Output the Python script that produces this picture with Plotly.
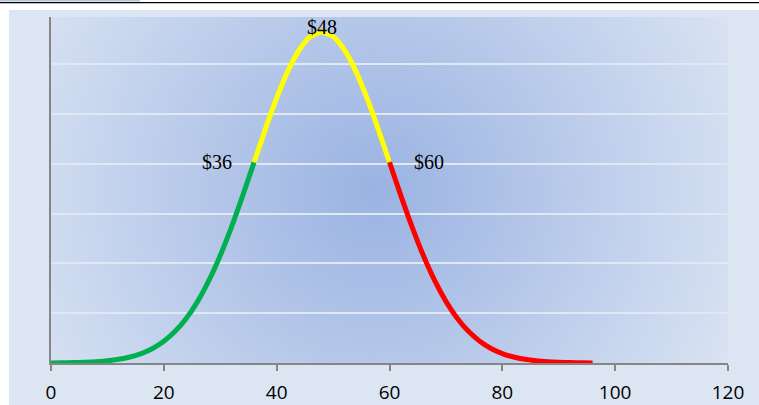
import base64
import plotly.graph_objects as go

# ---- data (price vs. relative likelihood) ----
green_x = [0, 2, 4, 6, 8, 10, 12, 14, 16, 18, 20, 22, 24, 26, 28, 30, 32, 34, 36]
green_y = [0.0000111, 0.0000214, 0.0000400, 0.0000727, 0.0001285, 0.0002208,
           0.0003693, 0.0006006, 0.0009497, 0.0014607, 0.0021852, 0.0031791,
           0.0044993, 0.0061926, 0.0082897, 0.010793, 0.013667, 0.016833, 0.020164]

yellow_x = [36, 38, 40, 42, 44, 46, 48, 50, 52, 54, 56, 58, 60]
yellow_y = [0.020164, 0.023492, 0.026621, 0.029339, 0.031449, 0.032787, 0.033245,
            0.032787, 0.031449, 0.029339, 0.026621, 0.023492, 0.020164]

red_x = [60, 62, 64, 66, 68, 70, 72, 74, 76, 78, 80, 82, 84, 86, 88, 90, 92, 94, 96]
red_y = [0.020164, 0.016833, 0.013667, 0.010793, 0.0082897, 0.0061926, 0.0044993,
         0.0031791, 0.0021852, 0.0014607, 0.0009497, 0.0006006, 0.0003693,
         0.0002208, 0.0001285, 0.0000727, 0.0000400, 0.0000214, 0.0000111]

label_points = [("$36", 36, 0.020164), ("$48", 48, 0.033245), ("$60", 60, 0.020164)]

x_ticks = [0, 20, 40, 60, 80, 100, 120]
x_range = [0, 120]
y_range = [0, 0.03475]
y_step = 0.005

# ---- styling ----
W, H = 759, 405
ML, MR, MT, MB = 51, 31, 17, 42
PW, PH = W - ML - MR, H - MT - MB

svg = (
    f"<svg xmlns='http://www.w3.org/2000/svg' width='{PW}' height='{PH}' "
    f"viewBox='0 0 {PW} {PH}' preserveAspectRatio='none'>"
    "<defs><radialGradient id='g' gradientUnits='userSpaceOnUse' "
    f"cx='{375 - ML}' cy='{190 - MT}' r='430'>"
    "<stop offset='0' stop-color='#9ab3e2'/>"
    "<stop offset='1' stop-color='#dfe7f4'/>"
    "</radialGradient></defs>"
    f"<rect x='0' y='0' width='{PW}' height='{PH}' fill='url(#g)'/></svg>"
)
svg_uri = "data:image/svg+xml;base64," + base64.b64encode(svg.encode()).decode()

fig = go.Figure()
for xs, ys, col in [(green_x, green_y, "#00b050"),
                    (yellow_x, yellow_y, "#ffff00"),
                    (red_x, red_y, "#ff0000")]:
    fig.add_trace(go.Scatter(
        x=xs, y=ys, mode="lines",
        line=dict(color=col, width=5, shape="spline", smoothing=0.6),
        hoverinfo="skip", showlegend=False,
    ))

label_font = dict(family="Liberation Serif, Times New Roman, serif", size=20, color="#000000")
for text, lx, ly in label_points:
    if lx == 48:
        fig.add_annotation(x=lx, y=ly, text=text, showarrow=False,
                           xanchor="center", yanchor="middle", yshift=5, font=label_font)
    elif lx < 48:
        fig.add_annotation(x=lx, y=ly, text=text, showarrow=False,
                           xanchor="right", yanchor="middle", xshift=-20, font=label_font)
    else:
        fig.add_annotation(x=lx, y=ly, text=text, showarrow=False,
                           xanchor="left", yanchor="middle", xshift=22, font=label_font)


def px_to_paper_x(px):
    return (px - ML) / PW


def py_to_paper_y(py):
    return (H - MB - py) / PH


shapes = [
    # white strip above the light frame
    dict(type="rect", xref="paper", yref="paper", layer="below",
         x0=px_to_paper_x(-5), x1=px_to_paper_x(W + 5),
         y0=py_to_paper_y(10), y1=py_to_paper_y(-5),
         fillcolor="#ffffff", line=dict(width=0)),
    # white strip left of the light frame
    dict(type="rect", xref="paper", yref="paper", layer="below",
         x0=px_to_paper_x(-5), x1=px_to_paper_x(9),
         y0=py_to_paper_y(H + 5), y1=py_to_paper_y(-5),
         fillcolor="#ffffff", line=dict(width=0)),
    # blue tab at top-left
    dict(type="rect", xref="paper", yref="paper", layer="above",
         x0=px_to_paper_x(0), x1=px_to_paper_x(140),
         y0=py_to_paper_y(1.6), y1=py_to_paper_y(0),
         fillcolor="#b3c5df", line=dict(width=0)),
    # black rule line
    dict(type="line", xref="paper", yref="paper", layer="above",
         x0=px_to_paper_x(0), x1=px_to_paper_x(W),
         y0=py_to_paper_y(2.6), y1=py_to_paper_y(2.6),
         line=dict(color="#000000", width=1.3)),
]

fig.update_layout(
    width=W, height=H, autosize=False,
    margin=dict(l=ML, r=MR, t=MT, b=MB, pad=0, autoexpand=False),
    paper_bgcolor="#dce6f2",
    plot_bgcolor="rgba(0,0,0,0)",
    showlegend=False,
    shapes=shapes,
    images=[dict(source=svg_uri, xref="paper", yref="paper", x=0, y=1,
                 sizex=1, sizey=1, xanchor="left", yanchor="top",
                 sizing="stretch", layer="below")],
    xaxis=dict(
        range=x_range, tickmode="array", tickvals=x_ticks,
        ticktext=[str(t) for t in x_ticks],
        showgrid=False, zeroline=False, automargin=False,
        showline=True, linecolor="#868686", linewidth=2,
        ticks="outside", ticklen=6, tickwidth=1.5, tickcolor="#868686",
        ticklabelstandoff=5,
        tickfont=dict(family="Open Sans, Liberation Sans, sans-serif", size=19, color="#000000"),
        fixedrange=True,
    ),
    yaxis=dict(
        range=y_range, dtick=y_step, tick0=0,
        showticklabels=False, ticks="", automargin=False,
        showgrid=True, gridcolor="#e0e8f4", gridwidth=1.5,
        zeroline=False,
        showline=True, linecolor="#868686", linewidth=2,
        fixedrange=True,
    ),
)

fig.write_html(
    "out.html",
    config={"displayModeBar": False, "responsive": False},
    post_script="document.body.style.margin='0px';document.body.style.overflow='hidden';",
)
